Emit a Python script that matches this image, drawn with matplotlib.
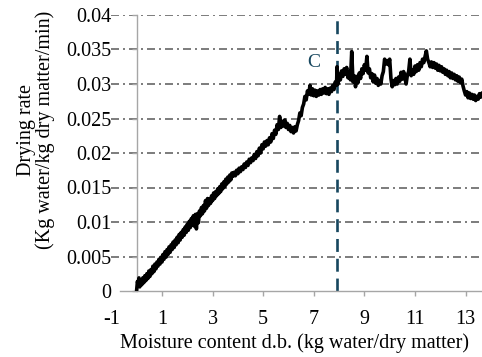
import matplotlib
matplotlib.use("Agg")
import matplotlib.pyplot as plt

plt.rcParams['font.family'] = ['Liberation Serif', 'DejaVu Serif']
plt.rcParams['axes.unicode_minus'] = False

# Rising part of the curve: moisture 0 .. 3.8
moisture_low = [
    0.00, 0.03, 0.06, 0.09, 0.12, 0.16, 0.20, 0.24, 0.28, 0.32, 0.36, 0.40,
    0.44, 0.48, 0.52, 0.56, 0.60, 0.64, 0.68, 0.72, 0.76, 0.80, 0.84, 0.88,
    0.92, 0.96, 1.00, 1.04, 1.08, 1.12, 1.16, 1.20, 1.24, 1.28, 1.32, 1.36,
    1.40, 1.44, 1.48, 1.52, 1.56, 1.60, 1.64, 1.68, 1.72, 1.76, 1.80, 1.84,
    1.88, 1.92, 1.96, 2.00, 2.04, 2.08, 2.12, 2.16, 2.20, 2.24, 2.28, 2.32,
    2.36, 2.40, 2.44, 2.48, 2.52, 2.56, 2.60, 2.64, 2.68, 2.72, 2.76, 2.80,
    2.84, 2.88, 2.92, 2.96, 3.00, 3.04, 3.08, 3.12, 3.16, 3.20, 3.24, 3.28,
    3.32, 3.36, 3.40, 3.44, 3.48, 3.52, 3.56, 3.60, 3.64, 3.68, 3.72, 3.76, 3.80,
]
rate_low = [
    0.0002, 0.0014, 0.0008, 0.0019, 0.0006, 0.0015, 0.0009, 0.0019, 0.0012, 0.0022, 0.0015, 0.0025,
    0.0018, 0.0029, 0.0021, 0.0031, 0.0025, 0.0036, 0.0028, 0.0039, 0.0032, 0.0042, 0.0036, 0.0046,
    0.0039, 0.0049, 0.0042, 0.0053, 0.0046, 0.0057, 0.0049, 0.0060, 0.0053, 0.0064, 0.0056, 0.0067,
    0.0060, 0.0071, 0.0063, 0.0074, 0.0067, 0.0078, 0.0070, 0.0082, 0.0074, 0.0085, 0.0078, 0.0089,
    0.0081, 0.0093, 0.0085, 0.0097, 0.0088, 0.0101, 0.0092, 0.0105, 0.0096, 0.0109, 0.0094, 0.0111,
    0.0090, 0.0112, 0.0099, 0.0116, 0.0109, 0.0121, 0.0112, 0.0124, 0.0116, 0.0131, 0.0120, 0.0134,
    0.0124, 0.0133, 0.0127, 0.0138, 0.0131, 0.0142, 0.0134, 0.0144, 0.0138, 0.0148, 0.0141, 0.0151,
    0.0144, 0.0155, 0.0148, 0.0158, 0.0151, 0.0162, 0.0155, 0.0165, 0.0158, 0.0168, 0.0161, 0.0171, 0.0166,
]

# Middle part: moisture 3.85 .. 7.90
moisture_mid = [
    3.85, 3.90, 3.95, 4.00, 4.05, 4.10, 4.15, 4.20, 4.25, 4.30, 4.35, 4.40,
    4.45, 4.50, 4.55, 4.60, 4.65, 4.70, 4.75, 4.80, 4.85, 4.90, 4.95, 5.00,
    5.05, 5.10, 5.15, 5.20, 5.25, 5.30, 5.35, 5.40, 5.45, 5.50, 5.55, 5.60,
    5.65, 5.70, 5.75, 5.80, 5.85, 5.90, 5.95, 6.00, 6.05, 6.10, 6.15, 6.20,
    6.25, 6.30, 6.35, 6.40, 6.45, 6.50, 6.55, 6.60, 6.65, 6.70, 6.75, 6.80,
    6.85, 6.90, 6.95, 7.00, 7.05, 7.10, 7.15, 7.20, 7.25, 7.30, 7.35, 7.40,
    7.45, 7.50, 7.55, 7.60, 7.65, 7.70, 7.75, 7.80, 7.85, 7.90,
]
rate_mid = [
    0.0172, 0.0167, 0.0175, 0.0170, 0.0178, 0.0173, 0.0180, 0.0176, 0.0184, 0.0179, 0.0187, 0.0182,
    0.0191, 0.0186, 0.0193, 0.0189, 0.0198, 0.0192, 0.0202, 0.0196, 0.0207, 0.0200, 0.0212, 0.0206,
    0.0216, 0.0210, 0.0218, 0.0212, 0.0222, 0.0216, 0.0228, 0.0221, 0.0233, 0.0227, 0.0241, 0.0234,
    0.0253, 0.0237, 0.0246, 0.0239, 0.0248, 0.0237, 0.0243, 0.0234, 0.0240, 0.0231, 0.0237, 0.0229,
    0.0238, 0.0232, 0.0241, 0.0247, 0.0258, 0.0254, 0.0266, 0.0271, 0.0282, 0.0277, 0.0290, 0.0285,
    0.0298, 0.0284, 0.0293, 0.0283, 0.0291, 0.0282, 0.0290, 0.0284, 0.0292, 0.0285, 0.0293, 0.0287,
    0.0295, 0.0286, 0.0293, 0.0285, 0.0294, 0.0289, 0.0298, 0.0292, 0.0303, 0.0298,
]

# Plateau part: moisture 7.92 .. 13.70
moisture_high = [
    7.92, 7.96, 8.00, 8.05, 8.10, 8.15, 8.20, 8.25, 8.30, 8.35, 8.40, 8.45,
    8.50, 8.55, 8.60, 8.65, 8.70, 8.75, 8.80, 8.85, 8.90, 8.95, 9.00, 9.05,
    9.10, 9.15, 9.20, 9.25, 9.30, 9.35, 9.40, 9.45, 9.50, 9.55, 9.60, 9.65,
    9.70, 9.75, 9.80, 9.85, 9.90, 9.95, 10.00, 10.05, 10.10, 10.15, 10.20, 10.25,
    10.30, 10.35, 10.40, 10.45, 10.50, 10.55, 10.60, 10.65, 10.70, 10.75, 10.80, 10.85,
    10.90, 10.95, 11.00, 11.05, 11.10, 11.15, 11.20, 11.25, 11.30, 11.35, 11.40, 11.45,
    11.50, 11.55, 11.60, 11.65, 11.70, 11.75, 11.80, 11.85, 11.90, 11.95, 12.00, 12.05,
    12.10, 12.15, 12.20, 12.25, 12.30, 12.35, 12.40, 12.45, 12.50, 12.55, 12.60, 12.65,
    12.70, 12.75, 12.80, 12.85, 12.90, 12.95, 13.00, 13.05, 13.10, 13.15, 13.20, 13.25,
    13.30, 13.35, 13.40, 13.45, 13.50, 13.55, 13.60, 13.65, 13.70,
]
rate_high = [
    0.0325, 0.0300, 0.0314, 0.0306, 0.0319, 0.0311, 0.0322, 0.0314, 0.0324, 0.0309, 0.0318, 0.0306,
    0.0347, 0.0303, 0.0312, 0.0296, 0.0311, 0.0302, 0.0316, 0.0308, 0.0322, 0.0315, 0.0328, 0.0320,
    0.0340, 0.0316, 0.0322, 0.0309, 0.0315, 0.0303, 0.0313, 0.0301, 0.0308, 0.0298, 0.0305, 0.0300,
    0.0312, 0.0318, 0.0336, 0.0329, 0.0334, 0.0328, 0.0336, 0.0308, 0.0296, 0.0305, 0.0299, 0.0308,
    0.0300, 0.0310, 0.0304, 0.0317, 0.0307, 0.0318, 0.0310, 0.0300, 0.0313, 0.0318, 0.0336, 0.0312,
    0.0320, 0.0314, 0.0326, 0.0318, 0.0328, 0.0320, 0.0331, 0.0325, 0.0336, 0.0331, 0.0340, 0.0348,
    0.0336, 0.0331, 0.0325, 0.0332, 0.0324, 0.0331, 0.0323, 0.0329, 0.0320, 0.0327, 0.0319, 0.0325,
    0.0317, 0.0322, 0.0314, 0.0320, 0.0312, 0.0318, 0.0309, 0.0316, 0.0308, 0.0314, 0.0306, 0.0312,
    0.0304, 0.0310, 0.0302, 0.0307, 0.0297, 0.0290, 0.0284, 0.0289, 0.0280, 0.0287, 0.0279, 0.0285,
    0.0278, 0.0284, 0.0276, 0.0282, 0.0278, 0.0286, 0.0281, 0.0287, 0.0283,
]

x_ticks = [-1, 1, 3, 5, 7, 9, 11, 13]
y_ticks = [0, 0.005, 0.01, 0.015, 0.02, 0.025, 0.03, 0.035, 0.04]
y_tick_labels = ["0", "0.005", "0.01", "0.015", "0.02", "0.025", "0.03", "0.035", "0.04"]

critical_moisture = 7.92
critical_line_top = 0.0393
critical_label = "C"
critical_label_pos = (7.0, 0.0331)

teal = "#17475F"
grey_axis = "#A6A6A6"
grey_grid = "#666666"

moisture = moisture_low + moisture_mid + moisture_high
drying_rate = rate_low + rate_mid + rate_high

fig = plt.figure(figsize=(4.82, 3.57), dpi=100)
ax = fig.add_axes([111.4 / 482, (357 - 291) / 357, (482 - 111.4) / 482, 276 / 357])

ax.set_xlim(-1, 13.65)
ax.set_ylim(0, 0.04)

# horizontal dash-dot grid
for yv in y_ticks[1:]:
    ax.axhline(yv, color=grey_grid, lw=1.2, ls=(0, (4.8, 2.4, 1.2, 2.4)), zorder=1)

for s in ["top", "right"]:
    ax.spines[s].set_visible(False)
ax.spines['left'].set_position(('data', 0))
ax.spines['left'].set_color(grey_axis)
ax.spines['left'].set_linewidth(1.0)
ax.spines['bottom'].set_color(grey_axis)
ax.spines['bottom'].set_linewidth(1.0)
ax.spines['bottom'].set_bounds(-0.65, 13.65)

ax.set_yticks(y_ticks)
ax.set_yticklabels(y_tick_labels)
ax.set_xticks(x_ticks)
ax.tick_params(axis='y', length=3.5, width=1.0, color=grey_axis, pad=15, labelsize=14.5)
ax.tick_params(axis='x', length=3.5, width=1.0, color=grey_axis, pad=10, labelsize=14.5)
ax.xaxis.get_major_ticks()[0].tick1line.set_visible(False)

# critical moisture line
ax.plot([critical_moisture, critical_moisture], [0, critical_line_top], color=teal,
        lw=1.9, ls=(0, (4.9, 2.6)), zorder=2)
ax.text(critical_label_pos[0], critical_label_pos[1], critical_label, color=teal,
        fontsize=14, ha='center', va='center')

# drying rate curve
ax.plot(moisture, drying_rate, color='black', lw=2.6, zorder=3, solid_joinstyle='round')

fig.text(294 / 482, 1 - 343 / 357, "Moisture content d.b. (kg water/dry matter)",
         ha='center', va='center', fontsize=14.5)
fig.text(36 / 482, 1 - 130 / 357, "Drying rate\n(Kg water/kg dry matter/min)",
         ha='center', va='center', rotation=90, fontsize=14.5, multialignment='center',
         linespacing=1.0)

fig.savefig("out.png", dpi=100)
